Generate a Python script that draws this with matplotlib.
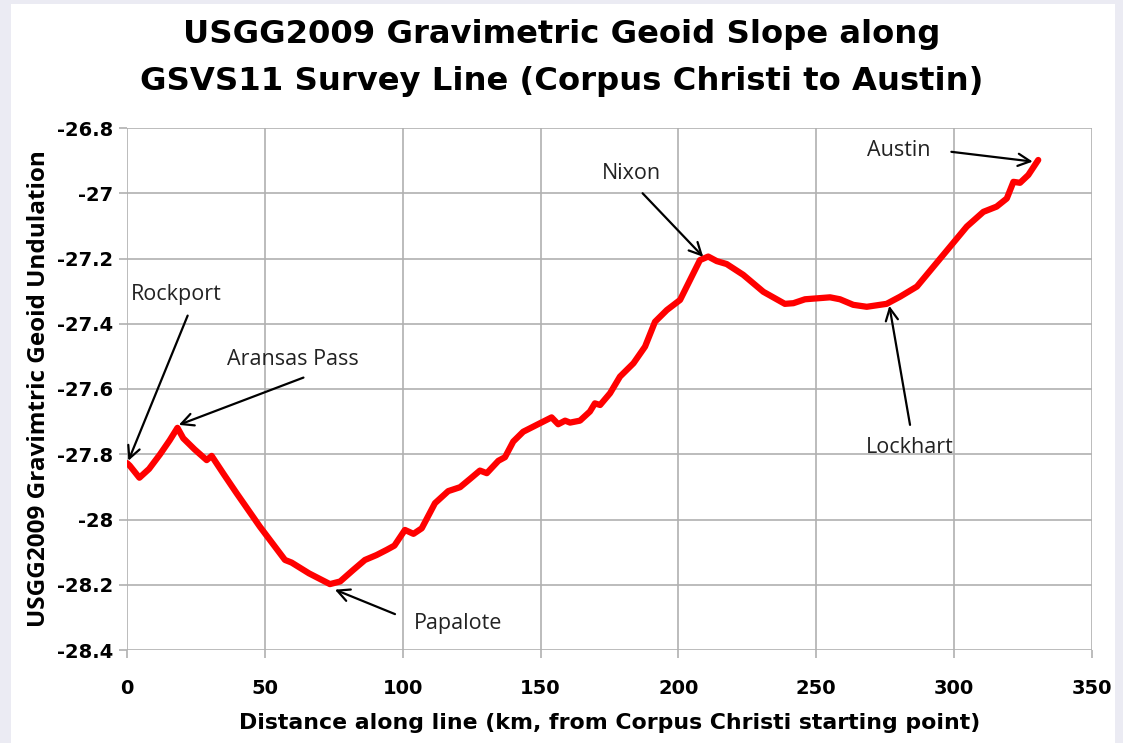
import numpy as np
import matplotlib.pyplot as plt
from matplotlib import font_manager
from matplotlib.patches import Rectangle

# distance along the line (km) and geoid undulation (m)
dist_km = [0.0, 1.0, 4.5, 8.0, 12.0, 15.5, 18.3, 20.4, 24.5, 28.9, 30.7, 35.0,
           39.8, 48.2, 57.3, 59.7, 66.0, 73.6, 77.3, 82.0, 86.3, 90.5, 94.2,
           97.0, 100.8, 103.9, 106.9, 111.7, 116.5, 120.8, 124.5, 128.0, 130.5,
           134.7, 137.1, 140.1, 143.7, 148.6, 154.0, 156.4, 158.9, 160.7, 164.3,
           167.9, 169.7, 171.6, 175.2, 178.8, 183.7, 187.9, 191.5, 195.8, 200.6,
           204.2, 207.8, 210.8, 213.9, 217.5, 223.5, 230.8, 238.6, 241.7, 245.9,
           255.0, 258.6, 263.4, 268.3, 275.5, 280.4, 286.5, 292.5, 298.5, 304.6,
           310.6, 315.4, 319.1, 321.5, 323.9, 326.9, 330.5]
undulation = [-27.827, -27.835, -27.872, -27.845, -27.80, -27.757, -27.719, -27.751,
              -27.785, -27.818, -27.805, -27.86, -27.92, -28.022, -28.124, -28.132,
              -28.165, -28.198, -28.19, -28.155, -28.124, -28.109, -28.093, -28.08,
              -28.032, -28.044, -28.027, -27.95, -27.913, -27.901, -27.875, -27.85,
              -27.858, -27.82, -27.809, -27.761, -27.731, -27.71, -27.687, -27.708,
              -27.697, -27.703, -27.697, -27.669, -27.644, -27.649, -27.613, -27.562,
              -27.521, -27.47, -27.394, -27.358, -27.327, -27.266, -27.205, -27.194,
              -27.208, -27.217, -27.25, -27.302, -27.339, -27.337, -27.325, -27.319,
              -27.325, -27.342, -27.348, -27.339, -27.317, -27.286, -27.225, -27.164,
              -27.102, -27.057, -27.041, -27.016, -26.965, -26.968, -26.944, -26.898]

# place labels: text, text position, arrow tip, arrow tail
places = ['Rockport', 'Aransas Pass', 'Papalote', 'Nixon', 'Lockhart', 'Austin']
label_xy = [(18, -27.31), (60, -27.51), (120, -28.32), (183, -26.94),
            (284, -27.78), (280, -26.87)]
tip_xy = [(0.5, -27.82), (18.8, -27.71), (75.4, -28.215), (209, -27.195),
          (276.5, -27.345), (328.5, -26.903)]
tail_xy = [(22, -27.375), (64, -27.565), (97.2, -28.29), (187, -27.0),
           (284, -27.71), (299, -26.873)]

# condensed bold face for the headings if there is one
names = {f.name for f in font_manager.fontManager.ttflist}
if 'DejaVu Sans Condensed' in names:
    narrow, squeeze = 'DejaVu Sans Condensed', 0.9
elif 'Liberation Sans Narrow' in names:
    narrow, squeeze = 'Liberation Sans Narrow', 0.82
else:
    narrow, squeeze = 'DejaVu Sans', 1.0
plt.rcParams['font.family'] = ['Open Sans', 'DejaVu Sans']

fig = plt.figure(figsize=(11.23, 7.43), dpi=100)
fig.patch.set_facecolor('#ebebf3')
fig.patches.append(Rectangle((11 / 1123, 0), 1 - 19 / 1123, 1 - 4 / 743,
                             transform=fig.transFigure, facecolor='white',
                             edgecolor='none', zorder=-5))

ax = fig.add_axes([127 / 1123, 1 - 650 / 743, 965 / 1123, 522 / 743])
ax.set_zorder(2)
ax.set_facecolor('white')
ax.plot(dist_km, undulation, color='#ff0000', linewidth=4.5,
        solid_joinstyle='round', solid_capstyle='round', zorder=3)

ax.set_xlim(0, 350)
ax.set_ylim(-28.4, -26.8)
ax.set_xticks(np.arange(0, 351, 50))
ax.set_yticks(np.arange(-28.4, -26.79, 0.2))
ax.set_yticklabels(['-28.4', '-28.2', '-28', '-27.8', '-27.6', '-27.4',
                    '-27.2', '-27', '-26.8'])
ax.grid(True, color='#b0b0b0', linewidth=1.2)
ax.set_axisbelow(True)
for s in ax.spines.values():
    s.set_visible(False)
ax.tick_params(axis='both', length=6, width=1.2, color='#b0b0b0',
               labelsize=14, pad=4)
ax.tick_params(axis='x', pad=15)
for lab in ax.get_xticklabels() + ax.get_yticklabels():
    lab.set_fontweight('bold')
    lab.set_family(narrow)

ax.set_xlabel('Distance along line (km, from Corpus Christi starting point)',
              fontsize=round(19 * 738 / 887 / squeeze, 1), fontweight='bold',
              labelpad=11, family=narrow)
ax.set_ylabel('USGG2009 Gravimtric Geoid Undulation', fontsize=17.5,
              fontweight='bold', labelpad=4)

for name, txt, tip, tail in zip(places, label_xy, tip_xy, tail_xy):
    ax.text(txt[0], txt[1], name, fontsize=15.5, ha='center', va='center',
            color='#222222', zorder=5)
    ax.annotate('', xy=tip, xytext=tail,
                arrowprops=dict(arrowstyle='->', color='black', lw=1.6,
                                mutation_scale=22, shrinkA=0, shrinkB=0),
                zorder=5)

fig.text(0.5, 0.975, 'USGG2009 Gravimetric Geoid Slope along\n'
         'GSVS11 Survey Line (Corpus Christi to Austin)',
         ha='center', va='top', fontsize=round(28 * 757 / 912 / squeeze, 1),
         fontweight='bold', linespacing=1.7, family=narrow)

fig.savefig('out.png', dpi=100, facecolor=fig.get_facecolor())
